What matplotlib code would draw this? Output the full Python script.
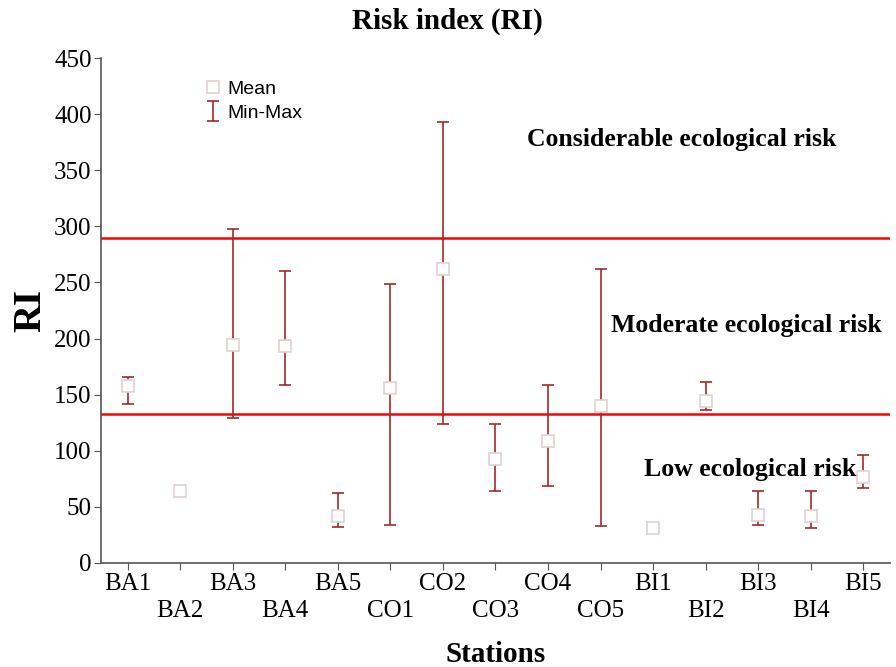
import matplotlib
matplotlib.use("Agg")
import matplotlib.pyplot as plt
import numpy as np

stations = ["BA1", "BA2", "BA3", "BA4", "BA5",
            "CO1", "CO2", "CO3", "CO4", "CO5",
            "BI1", "BI2", "BI3", "BI4", "BI5"]
ri_mean = [158, 64, 194, 193, 42, 156, 262, 93, 109, 140, 31, 144, 43, 42, 77]
ri_min = [142, 63, 129, 159, 32, 34, 124, 64, 69, 33, 30, 136, 34, 31, 67]
ri_max = [166, 65, 298, 260, 62, 249, 393, 124, 159, 262, 32, 161, 64, 64, 96]
# class limits of the risk index
limits = [133, 290]

serif = "Liberation Serif"
bar_col = "#9e2b2b"

x = np.arange(len(stations))
mean = np.array(ri_mean)
lo = mean - np.array(ri_min)
hi = np.array(ri_max) - mean

fig = plt.figure(figsize=(8.96, 6.67), dpi=100)
ax = fig.add_axes([0.113, 0.156, 0.88, 0.757])

for v in limits:
    ax.axhline(v, color="#ff0000", lw=1.8, zorder=1)

eb = ax.errorbar(x, mean, yerr=[lo, hi], fmt="none", ecolor=bar_col,
                 elinewidth=1.2, capsize=4, capthick=1.2, zorder=2,
                 label="Min-Max")
pts, = ax.plot(x, mean, "s", ms=8, mfc="white", mec="#e2cfd1", mew=1.2,
               ls="none", zorder=3, label="Mean")

ax.set_xlim(-0.5, 14.5)
ax.set_ylim(0, 450)
ax.set_yticks(range(0, 451, 50))
ax.set_xticks(x)
ax.set_xticklabels([s if i % 2 == 0 else "\n" + s for i, s in enumerate(stations)],
                   fontfamily=serif, fontsize=18, linespacing=1.3)
for lab in ax.get_yticklabels():
    lab.set_fontfamily(serif)
    lab.set_fontsize(18)

for side in ["top", "right"]:
    ax.spines[side].set_visible(False)
for side in ["left", "bottom"]:
    ax.spines[side].set_color("#555555")
    ax.spines[side].set_linewidth(1.2)
ax.tick_params(direction="out", length=5, color="#555555", pad=2)

fig.text(0.499, 0.968, "Risk index (RI)", fontfamily=serif, fontweight="bold",
         fontsize=21, ha="center", va="center")
ax.set_ylabel("RI", fontfamily=serif, fontweight="bold", fontsize=28, labelpad=3)
ax.set_xlabel("Stations", fontfamily=serif, fontweight="bold", fontsize=21,
              labelpad=14)

ax.text(10.55, 377, "Considerable ecological risk", fontfamily=serif,
        fontweight="bold", fontsize=18.5, ha="center", va="center")
ax.text(11.77, 212, "Moderate ecological risk", fontfamily=serif,
        fontweight="bold", fontsize=18.5, ha="center", va="center")
ax.text(11.84, 83, "Low ecological risk", fontfamily=serif,
        fontweight="bold", fontsize=18.5, ha="center", va="center")

ax.legend([pts, eb], ["Mean", "Min-Max"], loc="upper left",
          bbox_to_anchor=(0.108, 0.99), frameon=False, handlelength=0.9,
          handletextpad=0.3, labelspacing=0.3,
          prop={"family": "Liberation Sans", "size": 14})

fig.savefig("out.png", dpi=100)
